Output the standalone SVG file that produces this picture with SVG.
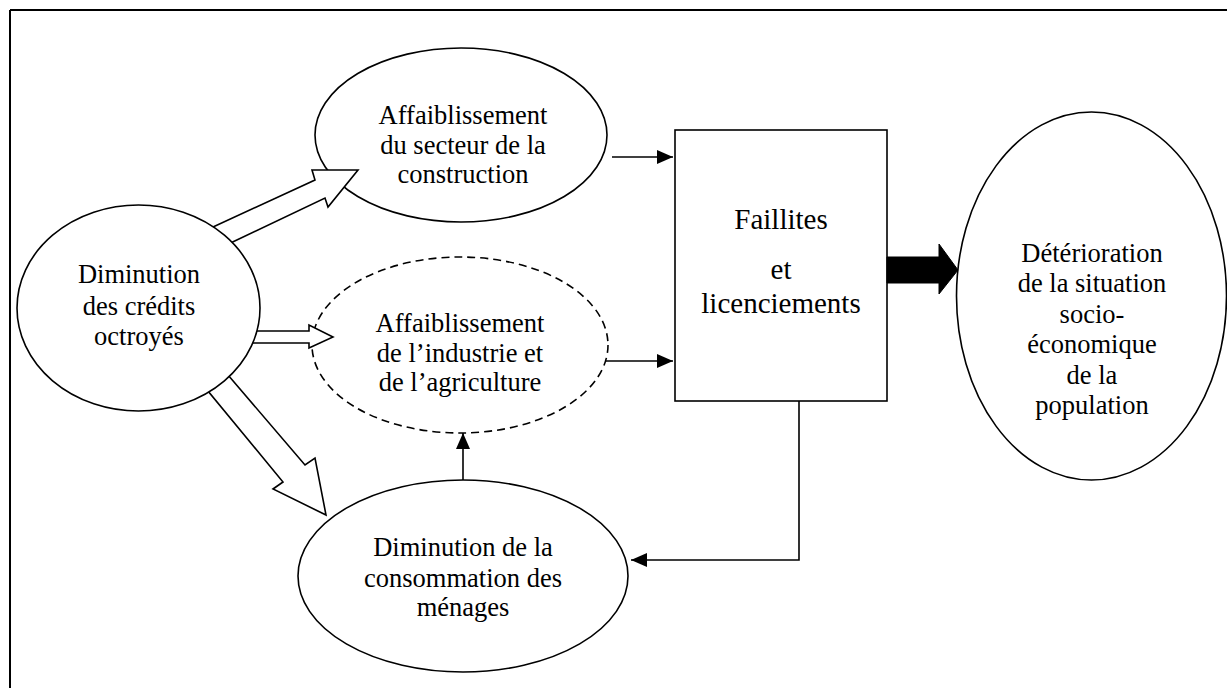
<svg xmlns="http://www.w3.org/2000/svg" width="1227" height="688" viewBox="0 0 1227 688">
<style>
.node{fill:#fff;stroke:#000;stroke-width:1.6}
.dash{stroke-dasharray:8 5}
.t{font-family:"Liberation Serif","Times New Roman",serif;font-size:26.5px;fill:#000;text-anchor:middle}
.big{font-size:29px}
.line{fill:none;stroke:#000;stroke-width:1.6}
.hollow{fill:#fff;stroke:#000;stroke-width:1.6;stroke-linejoin:miter}
</style>
<defs>
<marker id="ah" viewBox="0 0 16 14" refX="16" refY="7" markerWidth="16" markerHeight="14" markerUnits="userSpaceOnUse" orient="auto">
<path d="M0,0 L16,7 L0,14 Z" fill="#000"/>
</marker>
</defs>
<rect x="0" y="0" width="1227" height="688" fill="#fff"/>
<g id="frame">
<line x1="10" y1="10" x2="1227" y2="10" stroke="#000" stroke-width="2"/>
<line x1="10" y1="10" x2="10" y2="688" stroke="#000" stroke-width="2"/>
</g>
<g id="node-construction">
<ellipse class="node" cx="461" cy="135" rx="146" ry="87"/>
<text class="t" x="463" y="124">Affaiblissement</text>
<text class="t" x="463" y="154">du secteur de la</text>
<text class="t" x="463" y="183">construction</text>
</g>
<g id="node-industrie">
<ellipse class="node dash" cx="460" cy="345" rx="148" ry="88"/>
<text class="t" x="460" y="332">Affaiblissement</text>
<text class="t" x="460" y="362">de l’industrie et</text>
<text class="t" x="460" y="391">de l’agriculture</text>
</g>
<g id="node-menages">
<ellipse class="node" cx="463" cy="576" rx="165" ry="96"/>
<text class="t" x="463" y="556">Diminution de la</text>
<text class="t" x="463" y="587">consommation des</text>
<text class="t" x="463" y="616">ménages</text>
</g>
<g id="node-faillites">
<rect class="node" x="675" y="130" width="212" height="271"/>
<text class="t big" x="781" y="229">Faillites</text>
<text class="t big" x="781" y="279">et</text>
<text class="t big" x="781" y="313">licenciements</text>
</g>
<g id="node-deterioration">
<ellipse class="node" cx="1091.5" cy="296" rx="135" ry="184"/>
<text class="t" x="1092" y="262">Détérioration</text>
<text class="t" x="1092" y="292">de la situation</text>
<text class="t" x="1092" y="323">socio-</text>
<text class="t" x="1092" y="353">économique</text>
<text class="t" x="1092" y="384">de la</text>
<text class="t" x="1092" y="414">population</text>
</g>
<g id="connectors">
<polygon class="hollow" points="200,233 315,180 312,170 358,170 328,207 325,198 220,248"/>
<polygon class="hollow" points="240,331 309,331 309,325 333,337 309,348 309,343 240,343"/>
<polygon class="hollow" points="228,375 305,465 315,458 326,515 273,489 283,482 208,391"/>
<line class="line" x1="612" y1="157" x2="673" y2="157" marker-end="url(#ah)"/>
<line class="line" x1="606" y1="361" x2="673" y2="361" marker-end="url(#ah)"/>
<line class="line" x1="463" y1="480" x2="463" y2="433" marker-end="url(#ah)"/>
<polyline class="line" points="799,401 799,560 631,560" marker-end="url(#ah)"/>
<polygon fill="#000" stroke="#000" stroke-width="1" points="887,257 939,257 939,244 958,270 939,294 939,283 887,283"/>
</g>
<g id="node-credits">
<ellipse class="node" cx="138.5" cy="308" rx="121.5" ry="103"/>
<text class="t" x="139" y="283">Diminution</text>
<text class="t" x="139" y="315">des crédits</text>
<text class="t" x="139" y="345">octroyés</text>
</g>
</svg>
